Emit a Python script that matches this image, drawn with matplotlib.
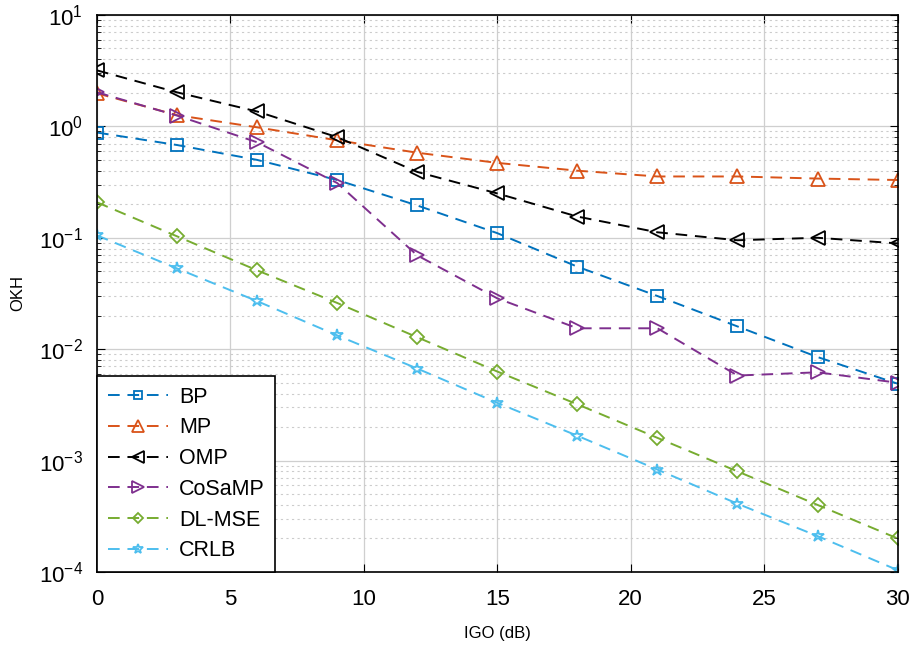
import matplotlib
matplotlib.use("Agg")
import matplotlib.pyplot as plt
import numpy as np

plt.rcParams['font.family'] = ['Liberation Sans', 'DejaVu Sans']

snr = [0, 3, 6, 9, 12, 15, 18, 21, 24, 27, 30]
bp = [0.88, 0.68, 0.50, 0.33, 0.195, 0.11, 0.055, 0.030, 0.016, 0.0085, 0.0049]
mp = [1.98, 1.26, 0.98, 0.75, 0.58, 0.47, 0.40, 0.355, 0.355, 0.34, 0.33]
omp = [3.18, 2.02, 1.36, 0.80, 0.39, 0.25, 0.155, 0.112, 0.095, 0.10, 0.089]
cosamp = [2.02, 1.25, 0.72, 0.31, 0.0695, 0.0286, 0.0154, 0.0154, 0.0058, 0.0062, 0.0050]
dlmse = [0.208, 0.103, 0.051, 0.026, 0.0128, 0.0063, 0.0032, 0.0016, 0.00080, 0.00040, 0.00020]
crlb = [0.105, 0.053, 0.027, 0.0133, 0.0067, 0.0033, 0.00167, 0.00083, 0.00041, 0.00021, 0.000104]

names = ['BP', 'MP', 'OMP', 'CoSaMP', 'DL-MSE', 'CRLB']
series = [bp, mp, omp, cosamp, dlmse, crlb]
colors = ['#0072BD', '#D95319', '#000000', '#7E2F8E', '#77AC30', '#4DBEEE']
markers = ['s', '^', '<', '>', 'D', '*']
msizes = [8, 10, 10, 10, 7, 9]

fig = plt.figure(figsize=(9.15, 6.5), dpi=100)
ax = fig.add_axes([0.106, 0.12, 0.875, 0.857])

for y, n, c, m, ms in zip(series, names, colors, markers, msizes):
    ax.semilogy(snr, y, linestyle=(0, (6, 4)), color=c, marker=m, markersize=ms,
                markerfacecolor='none', markeredgecolor=c, markeredgewidth=1.3, linewidth=1.4, label=n)

ax.set_xlim(0, 30)
ax.set_ylim(1e-4, 1e1)
ax.set_xticks([0, 5, 10, 15, 20, 25, 30])
ax.grid(True, which='major', color='#cfcfcf', linewidth=0.9, linestyle='-')
ax.grid(True, which='minor', color='#cccccc', linewidth=0.8, linestyle=(0, (2, 3)))
ax.tick_params(which='both', direction='in', top=True, right=True, labelsize=16)
ax.tick_params(which='major', length=6)
ax.tick_params(which='minor', length=3)
ax.tick_params(axis='x', which='both', pad=12)
ax.tick_params(axis='y', which='both', pad=10)
for s in ax.spines.values():
    s.set_linewidth(1.2)
ax.set_xlabel('IGO (dB)', fontsize=12, labelpad=12)
ax.set_ylabel('OKH', fontsize=12, labelpad=10)

leg = ax.legend(loc='lower left', fontsize=15.5, frameon=True, fancybox=False, edgecolor='black',
                framealpha=1, handlelength=2.8, handletextpad=0.5, borderaxespad=0.0,
                labelspacing=0.45, borderpad=0.5, markerscale=0.8)
leg.get_frame().set_linewidth(1.2)

fig.savefig('out.png', dpi=100)
